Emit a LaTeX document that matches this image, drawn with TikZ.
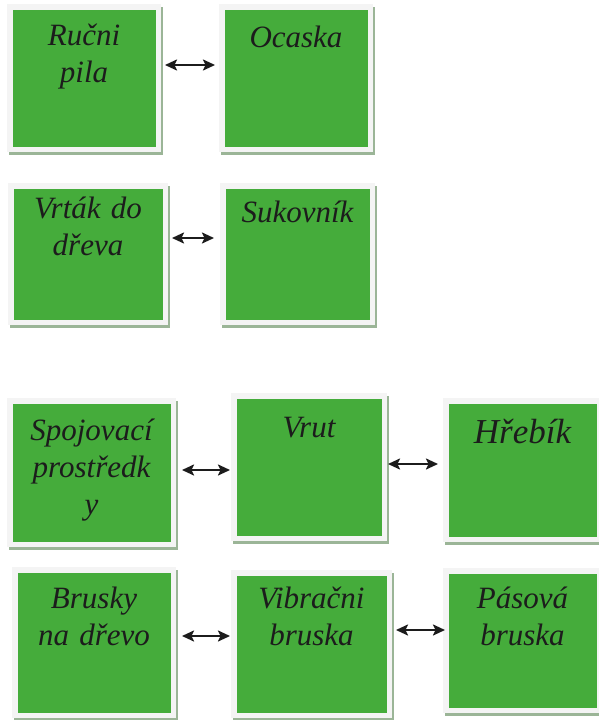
\documentclass[tikz,border=0pt]{standalone}
\usepackage{fontspec}
\setmainfont{Liberation Serif}
\usetikzlibrary{arrows.meta,calc}
\definecolor{boxgreen}{HTML}{45AC3B}
\definecolor{framegrey}{HTML}{F4F4F4}
\definecolor{shadowgreen}{HTML}{9BB597}
\definecolor{inkc}{HTML}{1C1C1C}
\tikzset{
  gbox/.style={draw=framegrey, fill=boxgreen, line width=5.5pt, inner sep=0pt},
  gtext/.style={anchor=base, align=center, text width=150pt, text=inkc, inner sep=0pt,
     font=\fontsize{31}{37}\selectfont\itshape},
  bigtext/.style={font=\fontsize{35}{40}\selectfont\itshape},
  biarrow/.style={line width=2.1pt, draw=inkc, {Stealth[length=12pt,width=11pt,inset=2.5pt]}-{Stealth[length=12pt,width=11pt,inset=2.5pt]}}
}
\newcommand\greenbox[5]{%
  \fill[shadowgreen] (#2+2,#3+3) rectangle (#4+2,#5+3);
  \node[gbox, minimum width={#4-#2-5.5}, minimum height={#5-#3-5.5}] (#1) at ({(#2+#4)/2},{(#3+#5)/2}) {};
}
\begin{document}
\begin{tikzpicture}[x=1pt,y=-1pt]
\useasboundingbox[fill=white] (0,0) rectangle (599,720);
% row 1
\greenbox{A}{7}{4}{161}{152}
\greenbox{B}{219}{4}{373}{152}
% row 2
\greenbox{C}{8}{183}{168}{325}
\greenbox{D}{220}{183}{375}{325}
% row 3
\greenbox{E}{7}{398}{176}{547}
\greenbox{F}{231}{393}{387}{541}
\greenbox{G}{443}{398}{602}{542}
% row 4
\greenbox{H}{12}{567}{176}{718}
\greenbox{I}{231}{570}{392}{718}
\greenbox{J}{443}{568}{602}{713}
% texts
\node[gtext] (At) at (A.center |- 0,45) {Ručni\\pila};
\node[gtext] (Bt) at (B.center |- 0,47) {Ocaska};
\node[gtext] (Ct) at (C.center |- 0,218) {Vrták do\\dřeva};
\node[gtext] (Dt) at (D.center |- 0,222) {Sukovník};
\node[gtext, text width=165pt] (Et) at (E.center |- 0,440) {Spojovací\\prostředk\\y};
\node[gtext] (Ft) at (F.center |- 0,437) {Vrut};
\node[gtext, bigtext] (Gt) at (G.center |- 0,443) {Hřebík};
\node[gtext] (Ht) at (H.center |- 0,608) {Brusky\\na dřevo};
\node[gtext] (It) at (I.center |- 0,608) {Vibračni\\bruska};
\node[gtext] (Jt) at (J.center |- 0,608) {Pásová\\bruska};
% arrows
\draw[biarrow] ([xshift=4pt]A.east |- 0,65) -- ([xshift=-4pt]B.west |- 0,65);
\draw[biarrow] ([xshift=4pt]C.east |- 0,238) -- ([xshift=-6pt]D.west |- 0,238);
\draw[biarrow] ([xshift=6pt]E.east |- 0,470) -- ([xshift=-1pt]F.west |- 0,470);
\draw[biarrow] ([xshift=1pt]F.east |- 0,464) -- ([xshift=-5pt]G.west |- 0,464);
\draw[biarrow] ([xshift=6pt]H.east |- 0,636) -- ([xshift=-1pt]I.west |- 0,636);
\draw[biarrow] ([xshift=4pt]I.east |- 0,630) -- ([xshift=2pt]J.west |- 0,630);
\end{tikzpicture}
\end{document}
